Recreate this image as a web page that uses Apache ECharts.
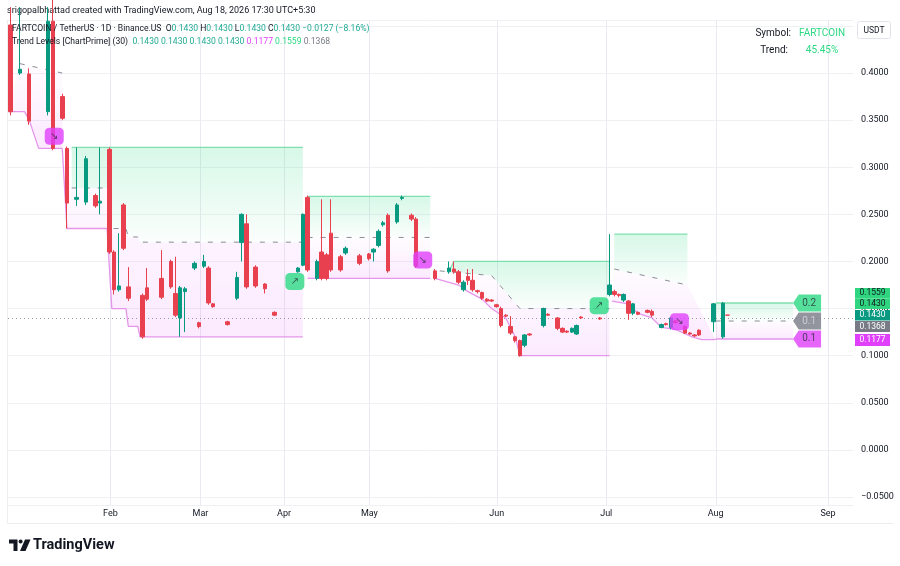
<!DOCTYPE html>
<html><head><meta charset="utf-8">
<script src="https://cdn.jsdelivr.net/npm/echarts@6/dist/echarts.min.js"></script>
<style>html,body{margin:0;padding:0;background:#fff}#c{width:900px;height:566px}</style>
</head><body><div id="c"></div>
<script>
// ---- DATA ----
// bar index, open, close, low, high
const candles = [
 [0,0.451,0.359,0.355,0.470],[2,0.400,0.404,0.398,0.470],[4,0.399,0.349,0.345,0.405],
 [8,0.359,0.455,0.355,0.470],[9,0.455,0.320,0.318,0.480],[11,0.375,0.352,0.350,0.378],
 [12,0.320,0.262,0.235,0.322],[14,0.266,0.268,0.259,0.321],[16,0.263,0.309,0.260,0.312],
 [18,0.270,0.259,0.257,0.272],[19,0.262,0.264,0.250,0.321],[21,0.319,0.210,0.208,0.321],
 [22,0.210,0.170,0.165,0.212],[23,0.170,0.174,0.168,0.230],[24,0.260,0.214,0.212,0.262],
 [25,0.173,0.161,0.158,0.194],[28,0.164,0.120,0.118,0.166],[29,0.172,0.160,0.158,0.193],
 [32,0.182,0.162,0.160,0.212],[34,0.200,0.173,0.171,0.202],[35,0.166,0.143,0.141,0.205],
 [36,0.140,0.172,0.120,0.174],[37,0.168,0.171,0.125,0.173],[39,0.193,0.198,0.191,0.200],
 [40,0.135,0.131,0.129,0.136],[41,0.195,0.200,0.193,0.207],[42,0.193,0.156,0.154,0.195],
 [43,0.155,0.152,0.151,0.156],[46,0.136,0.133,0.132,0.137],[48,0.161,0.183,0.159,0.189],
 [49,0.220,0.250,0.200,0.251],[50,0.240,0.173,0.171,0.250],[52,0.194,0.174,0.172,0.196],
 [54,0.176,0.171,0.166,0.177],[56,0.146,0.143,0.142,0.147],[61,0.189,0.193,0.188,0.194],
 [62,0.196,0.250,0.195,0.251],[63,0.268,0.191,0.189,0.270],
 [65,0.182,0.200,0.180,0.202],[66,0.210,0.182,0.180,0.266],[67,0.207,0.182,0.180,0.209],
 [68,0.230,0.191,0.189,0.266],[70,0.205,0.191,0.189,0.207],[71,0.209,0.214,0.207,0.216],
 [74,0.206,0.198,0.196,0.208],[76,0.208,0.203,0.201,0.209],[77,0.210,0.213,0.200,0.214],
 [78,0.217,0.232,0.215,0.234],[79,0.239,0.241,0.237,0.243],[80,0.249,0.190,0.188,0.251],
 [82,0.242,0.260,0.240,0.262],[83,0.267,0.268,0.265,0.270],[85,0.249,0.245,0.243,0.251],
 [86,0.245,0.195,0.193,0.247],[90,0.190,0.182,0.180,0.192],
 [93,0.189,0.193,0.187,0.200],[94,0.192,0.189,0.187,0.200],[95,0.189,0.178,0.176,0.191],
 [96,0.170,0.178,0.168,0.180],[97,0.184,0.180,0.175,0.192],[98,0.180,0.170,0.168,0.192],
 [99,0.169,0.168,0.166,0.170],[100,0.167,0.161,0.159,0.168],[101,0.160,0.158,0.157,0.161],
 [102,0.159,0.158,0.157,0.160],[103,0.154,0.152,0.151,0.155],[104,0.150,0.132,0.130,0.152],
 [105,0.143,0.142,0.141,0.144],[106,0.131,0.124,0.122,0.142],[107,0.120,0.116,0.114,0.121],
 [108,0.116,0.100,0.099,0.117],[109,0.111,0.122,0.109,0.123],[110,0.123,0.122,0.121,0.124],
 [113,0.132,0.150,0.130,0.151],[114,0.144,0.143,0.142,0.145],[116,0.140,0.129,0.127,0.141],
 [117,0.129,0.125,0.124,0.130],[118,0.126,0.125,0.124,0.127],[119,0.125,0.129,0.124,0.130],
 [120,0.123,0.132,0.122,0.133],[121,0.141,0.140,0.139,0.142],[125,0.140,0.139,0.138,0.141],
 [127,0.165,0.175,0.163,0.229],[128,0.168,0.165,0.163,0.170],[129,0.165,0.164,0.162,0.166],
 [130,0.159,0.165,0.157,0.166],[131,0.158,0.145,0.138,0.159],[132,0.145,0.155,0.143,0.156],
 [133,0.146,0.144,0.143,0.147],[135,0.148,0.146,0.145,0.149],[136,0.147,0.143,0.141,0.149],
 [138,0.130,0.133,0.129,0.134],[139,0.134,0.133,0.132,0.135],[140,0.130,0.140,0.128,0.141],
 [141,0.137,0.135,0.134,0.138],[143,0.131,0.124,0.123,0.132],[144,0.124,0.123,0.122,0.125],
 [145,0.122,0.121,0.120,0.123],[146,0.127,0.122,0.121,0.128],
 [149,0.136,0.155,0.125,0.156],[151,0.120,0.1557,0.118,0.157],[152,0.143,0.143,0.143,0.143]
];
const monthNames = ['Feb','Mar','Apr','May','Jun','Jul','Aug','Sep'];
const monthBars  = [21.2, 40.3, 58.0, 76.1, 103.1, 126.3, 149.5, 173.3];

// Trend Levels indicator: high / mid / low level per trend segment
const highLines = [
 null,
 [[13,0.321],[62,0.321]],
 [[63,0.269],[89,0.269]],
 [[93,0.19],[94,0.2],[127,0.2]],
 [[128,0.229],[143.5,0.229]],
 [[149.5,0.1559],[165.9,0.1559]]
];
const midLines = [
 [[2,0.41],[11,0.40]],
 [[13,0.278],[20.5,0.278],[21.5,0.235],[24.5,0.235],[25,0.226],[27,0.226],[27.5,0.2205],[62,0.2205]],
 [[63,0.2255],[89,0.2255]],
 [[91,0.19],[102,0.185],[108,0.15],[127,0.15]],
 [[128,0.192],[143.5,0.175]],
 [[149.5,0.1368],[165.9,0.1368]]
];
const lowLines = [
 [[-0.5,0.359],[3,0.359],[4,0.35],[6,0.32],[11,0.32]],
 [[11,0.32],[12,0.235],[20.5,0.235],[21.5,0.15],[24.5,0.15],[25,0.131],[27,0.131],[27.5,0.12],[62,0.12]],
 [[63,0.182],[89,0.182]],
 [[90,0.182],[95,0.175],[97,0.168],[100,0.16],[102,0.15],[105,0.14],[107,0.12],[108,0.1],[127,0.1]],
 [[127.5,0.158],[131,0.155],[133,0.145],[136,0.14],[138,0.13],[141,0.128],[144.5,0.12],[146.5,0.117],[149.5,0.117]],
 [[149.5,0.1177],[165.9,0.1177]]
];
// trend change markers: bar, price, direction
const flipBars   = [9.3, 60.3, 87.4, 124.8, 141.8];
const flipPrices = [0.333, 0.1788, 0.2015, 0.153, 0.136];
const flipDirs   = ['down','up','down','up','down'];
// last level values
const levelValues = [0.1559, 0.1368, 0.1177];
const levelEndBar = 165.9;
const lastPrice = 0.1430;
// right-scale price tags
const tagValues = [0.1559, 0.1430, 0.1430, 0.1368, 0.1177];
const tagKinds  = ['green','green','teal','gray','magenta'];

// ---- STYLE ----
const UP = '#089981', DOWN = '#e8404e';
const GREEN = '#2bd983', MAGENTA = '#e040fb', GRAY = '#787b86';
const FONT = 'Roboto, "Noto Sans", "DejaVu Sans", sans-serif';
const tagStyle = {
  green:{bg:'#2fd67f', fg:'#131722'}, teal:{bg:'#089981', fg:'#ffffff'},
  gray:{bg:'#787b86', fg:'#ffffff'}, magenta:{bg:'#e040fb', fg:'#ffffff'}
};
const tagTops = [288, 298.5, 310, 321, 334];
const tagHeights = [10.5, 10.5, 10.5, 11, 12];

const chart = echarts.init(document.getElementById('c'), null, {renderer:'canvas'});

function polySeries(polys, top, bottom, z) {
  return {
    type:'custom', silent:true, clip:true, z:z, animation:false,
    data: polys.map((p,i)=>[p[0][0], p[0][1], i]),
    encode:{x:0, y:1},
    renderItem:(params, api)=>{
      const p = polys[api.value(2)];
      return {type:'polygon', shape:{points:p.map(q=>api.coord(q))},
        style:{fill:{type:'linear', x:0, y:0, x2:0, y2:1, colorStops:[{offset:0,color:top},{offset:1,color:bottom}]}}};
    }
  };
}
const greenPolys = [], pinkPolys = [];
highLines.forEach((h,i)=>{ if (h) greenPolys.push(h.concat(midLines[i].slice().reverse())); });
lowLines.forEach((l,i)=>{ pinkPolys.push(l.concat(midLines[i].slice().reverse())); });

function lineSeries(pts, color, type, width) {
  return {type:'line', data:pts, symbol:'none', silent:true, animation:false, z:4,
    lineStyle:{color:color, width:width, type:type}};
}

const series = [];
// month grid lines
series.push({
  type:'custom', silent:true, z:0, animation:false, clip:true,
  data: monthBars.map(v=>[v, 0]), encode:{x:0, y:1},
  renderItem:(params, api)=>{
    const cs = params.coordSys; const x = Math.round(api.coord([api.value(0),0])[0]) + 0.5;
    return {type:'line', shape:{x1:x, y1:cs.y, x2:x, y2:cs.y+cs.height}, style:{stroke:'#e9ebf0', lineWidth:1}};
  }
});
series.push(polySeries(greenPolys, 'rgba(43,217,131,0.19)', 'rgba(43,217,131,0.02)', 1));
series.push(polySeries(pinkPolys, 'rgba(224,64,251,0.015)', 'rgba(224,64,251,0.11)', 1));
highLines.forEach(h=>{ if (h) series.push(lineSeries(h, '#7fdfaf', 'solid', 1.3)); });
lowLines.forEach(l=>series.push(lineSeries(l, '#e596ea', 'solid', 1.3)));
midLines.forEach(m=>series.push(lineSeries(m, '#8a8d96', [5,8], 1)));

series.push({
  type:'candlestick', z:5, animation:false, silent:true,
  data: candles, encode:{x:0, y:[1,2,3,4]},
  barWidth: 4,
  itemStyle:{color:UP, color0:DOWN, borderColor:UP, borderColor0:DOWN, borderWidth:1},
  markLine:{silent:true, symbol:'none', animation:false,
    label:{show:false},
    lineStyle:{color:'#9598a1', type:[1,3], width:1},
    data:[{yAxis:lastPrice}]}
});
// trend change labels
series.push({
  type:'scatter', z:7, silent:true, animation:false,
  data: flipBars.map((b,i)=>({value:[b, flipPrices[i]],
    itemStyle:{color: flipDirs[i]==='up' ? GREEN : MAGENTA},
    label:{formatter: flipDirs[i]==='up' ? '\u2197' : '\u2198'}})),
  symbol:'roundRect', symbolSize:[19,17],
  label:{show:true, position:'inside', color:'#2a2e39', fontSize:10, fontFamily:'DejaVu Sans'}
});
// end-of-line level tags
const tagColors = [GREEN, GRAY, MAGENTA];
const tagText = ['#2a2e39', '#d8dbe2', '#2a2e39'];
series.push({
  type:'scatter', z:7, silent:true, animation:false,
  data: levelValues.map((v,i)=>({value:[levelEndBar, v],
    itemStyle:{color:tagColors[i]},
    label:{color:tagText[i], formatter: v.toFixed(1)}})),
  symbol:'path://M0,8 L6,0 L30,0 L30,16 L6,16 Z', symbolSize:[28,17], symbolOffset:[14,0],
  label:{show:true, position:'inside', offset:[2,0], fontSize:10, fontFamily:FONT}
});

const graphic = [];
// outer frame (left + bottom)
graphic.push({type:'polyline', z:1, shape:{points:[[7.5,20],[7.5,523.5],[893,523.5]]}, style:{stroke:'#eceef2', lineWidth:1, fill:null}});
// header
graphic.push({type:'text', x:7, y:11, style:{text:'srigopalbhattad created with TradingView.com, Aug 18, 2026 17:30 UTC+5:30', verticalAlign:'middle', fontSize:9, fontFamily:FONT, fill:'#131722'}});
graphic.push({type:'text', x:12, y:29, z:20, style:{
  text:'{d|FARTCOIN / TetherUS \u00b7 1D \u00b7 Binance.US}  {d|O}{g|0.1430} {d|H}{g|0.1430} {d|L}{g|0.1430} {d|C}{g|0.1430} {g|\u22120.0127 (\u22128.16%)}',
  verticalAlign:'middle', fontSize:8.6, fontFamily:FONT, rich:{d:{fill:'#131722', fontSize:8.6, fontFamily:FONT}, g:{fill:'#22ab94', fontSize:8.6, fontFamily:FONT}}}});
graphic.push({type:'text', x:12, y:42, z:20, style:{
  text:'{d|Trend Levels [ChartPrime] (30)}  {g|0.1430} {g|0.1430} {g|0.1430} {g|0.1430} {m|0.1177} {l|0.1559} {s|0.1368}',
  verticalAlign:'middle', fontSize:8.6, fontFamily:FONT, rich:{d:{fill:'#131722', fontSize:8.6, fontFamily:FONT}, g:{fill:'#22ab94', fontSize:8.6, fontFamily:FONT},
  m:{fill:'#e040fb', fontSize:8.6, fontFamily:FONT}, l:{fill:'#2bd983', fontSize:8.6, fontFamily:FONT}, s:{fill:'#787b86', fontSize:8.6, fontFamily:FONT}}}});
// info table
graphic.push({type:'text', x:791, y:33, z:20, style:{text:'Symbol:', align:'right', verticalAlign:'middle', fontSize:10, fontFamily:FONT, fill:'#131722'}});
graphic.push({type:'text', x:822, y:33, z:20, style:{text:'FARTCOIN', align:'center', verticalAlign:'middle', fontSize:10, fontFamily:FONT, fill:'#2bd983'}});
graphic.push({type:'text', x:788, y:50, z:20, style:{text:'Trend:', align:'right', verticalAlign:'middle', fontSize:10, fontFamily:FONT, fill:'#131722'}});
graphic.push({type:'text', x:822, y:50, z:20, style:{text:'45.45%', align:'center', verticalAlign:'middle', fontSize:10, fontFamily:FONT, fill:'#2bd983'}});
// USDT box
graphic.push({type:'rect', shape:{x:857.5, y:21.5, width:33, height:17, r:2}, z:20, style:{fill:'#fff', stroke:'#e0e3eb', lineWidth:1}});
graphic.push({type:'text', x:874, y:30.5, z:21, style:{text:'USDT', align:'center', verticalAlign:'middle', fontSize:8.5, fontFamily:FONT, fill:'#131722'}});
// price scale tags
tagValues.forEach((v,i)=>{
  const st = tagStyle[tagKinds[i]];
  graphic.push({type:'rect', z:20, shape:{x:855, y:tagTops[i], width:35, height:tagHeights[i]}, style:{fill:st.bg}});
  graphic.push({type:'text', z:21, x:872.5, y:tagTops[i]+tagHeights[i]/2, style:{text:v.toFixed(4), align:'center', verticalAlign:'middle', fontSize:8.5, fontFamily:FONT, fill:st.fg}});
});
// TradingView logo
graphic.push({type:'polygon', z:20, shape:{points:[[9,539.5],[17.5,539.5],[17.5,551],[13.5,551],[13.5,543.5],[9,543.5]]}, style:{fill:'#131722'}});
graphic.push({type:'circle', z:20, shape:{cx:20.6, cy:541.6, r:2}, style:{fill:'#131722'}});
graphic.push({type:'polygon', z:20, shape:{points:[[25,539.5],[30.5,539.5],[25.5,551],[20,551]]}, style:{fill:'#131722'}});
graphic.push({type:'text', x:33, y:545, z:20, style:{text:'TradingView', verticalAlign:'middle', fontSize:14.5, fontWeight:'bold', fontFamily:FONT, fill:'#131722'}});

chart.setOption({
  animation:false,
  backgroundColor:'#ffffff',
  grid:{left:8, right:47, top:20, bottom:61, show:false},
  xAxis:{
    type:'value', min:-0.5, max:178.6,
    axisLine:{show:false},
    axisTick:{show:false},
    splitLine:{show:false},
    axisLabel:{customValues:monthBars, color:'#131722', fontSize:9, fontFamily:FONT, margin:4,
      formatter:(v)=>{ let k=0, d=1e9; monthBars.forEach((m,i)=>{ if(Math.abs(m-v)<d){d=Math.abs(m-v);k=i;} }); return monthNames[k]; }}
  },
  yAxis:{
    type:'value', position:'right', min:-0.0585, max:0.4563, splitNumber:10,
    axisLine:{show:false}, axisTick:{show:false},
    splitLine:{show:true, lineStyle:{color:'#eef0f4'}},
    axisLabel:{color:'#131722', fontSize:9, fontFamily:FONT, margin:8, showMinLabel:false, showMaxLabel:false,
      formatter:(v)=> v>0.42 ? '' : v.toFixed(4).replace('-', '\u2212')}
  },
  series: series,
  graphic: graphic
});
</script></body></html>
